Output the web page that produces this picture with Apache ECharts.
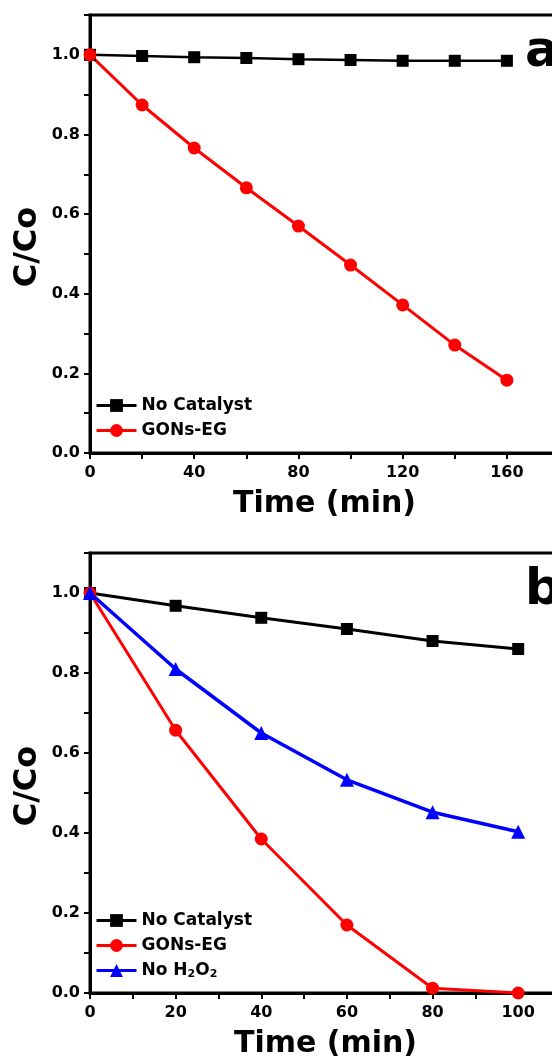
<!DOCTYPE html>
<html>
<head>
<meta charset="utf-8">
<script src="https://cdn.jsdelivr.net/npm/echarts@6/dist/echarts.min.js"></script>
<style>
  html, body { margin: 0; padding: 0; background: #fff; }
  #chart { width: 552px; height: 1062px; }
</style>
</head>
<body>
<div id="chart"></div>
<script>
// panel a
const timeA = [0, 20, 40, 60, 80, 100, 120, 140, 160];
const noCatalystA = [1.0, 0.997, 0.994, 0.992, 0.989, 0.987, 0.985, 0.985, 0.985];
const gonsA = [1.0, 0.874, 0.766, 0.666, 0.570, 0.472, 0.372, 0.271, 0.183];

// panel b
const timeB = [0, 20, 40, 60, 80, 100];
const noCatalystB = [1.0, 0.968, 0.938, 0.910, 0.880, 0.860];
const gonsB = [1.0, 0.657, 0.385, 0.170, 0.012, 0.0];
const noH2O2B = [1.0, 0.810, 0.650, 0.533, 0.452, 0.403];

const FONT = 'DejaVu Sans';

const pairs = (xs, ys) => xs.map((x, i) => [x, ys[i]]);

const yAxisBase = (gridIndex) => ({
  type: 'value',
  gridIndex: gridIndex,
  min: 0,
  max: 1.1,
  interval: 0.1,
  splitLine: { show: false },
  axisLine: { show: true, lineStyle: { color: '#000', width: 3 } },
  axisTick: { show: true, inside: false, length: 6, lineStyle: { color: '#000', width: 2 } },
  axisLabel: {
    margin: 10,
    color: '#000',
    fontFamily: FONT,
    fontWeight: 'bold',
    fontSize: 16,
    formatter: (v) => (Math.round(v * 10) % 2 === 0 && v <= 1.0001) ? v.toFixed(1) : ''
  }
});

const xAxisBase = (gridIndex, max, interval, labelStep) => ({
  type: 'value',
  gridIndex: gridIndex,
  min: 0,
  max: max,
  interval: interval,
  splitLine: { show: false },
  axisLine: { show: true, onZero: false, lineStyle: { color: '#000', width: 3 } },
  axisTick: { show: true, inside: false, length: 6, lineStyle: { color: '#000', width: 2 } },
  axisLabel: {
    margin: 12,
    color: '#000',
    fontFamily: FONT,
    fontWeight: 'bold',
    fontSize: 16,
    formatter: (v) => (Math.round(v) % labelStep === 0) ? String(v) : ''
  },
  name: 'Time (min)',
  nameLocation: 'middle',
  nameGap: 36,
  nameTextStyle: { color: '#000', fontFamily: FONT, fontWeight: 'bold', fontSize: 30 }
});

const legendText = { color: '#000', fontFamily: FONT, fontWeight: 'bold', fontSize: 17,
  rich: { sub: { fontFamily: FONT, fontWeight: 'bold', fontSize: 11, padding: [8, 0, 0, 0] } } };

const option = {
  backgroundColor: '#fff',
  animation: false,
  grid: [
    { left: 90, top: 15, width: 469, height: 438, show: true, borderColor: '#000', borderWidth: 3,
      outerBoundsMode: 'none', containLabel: false },
    { left: 90, top: 553, width: 471, height: 440, show: true, borderColor: '#000', borderWidth: 3,
      outerBoundsMode: 'none', containLabel: false }
  ],
  xAxis: [xAxisBase(0, 180, 20, 40), xAxisBase(1, 110, 10, 20)],
  yAxis: [yAxisBase(0), yAxisBase(1)],
  legend: [
    {
      orient: 'vertical', left: 95, top: 397, padding: 0, itemWidth: 40, itemHeight: 16, itemGap: 8,
      lineStyle: { width: 3 }, textStyle: legendText, data: ['No Catalyst', 'GONs-EG']
    },
    {
      orient: 'vertical', left: 95, top: 912, padding: 0, itemWidth: 40, itemHeight: 16, itemGap: 8,
      lineStyle: { width: 3 }, textStyle: legendText, data: ['No Catalyst ', 'GONs-EG ', 'No H2O2'],
      formatter: (name) => name === 'No H2O2' ? 'No H{sub|2}O{sub|2}' : name.trim()
    }
  ],
  graphic: [
    { type: 'text', left: 525, top: 28, style: { text: 'a', fill: '#000', font: 'bold 50px "DejaVu Sans"' } },
    { type: 'text', left: 525, top: 566, style: { text: 'b', fill: '#000', font: 'bold 50px "DejaVu Sans"' } },
    { type: 'text', x: 28, y: 247, rotation: Math.PI / 2,
      style: { text: 'C/Co', fill: '#000', font: 'bold 32px "DejaVu Sans"', align: 'center', verticalAlign: 'middle' } },
    { type: 'text', x: 28, y: 786, rotation: Math.PI / 2,
      style: { text: 'C/Co', fill: '#000', font: 'bold 32px "DejaVu Sans"', align: 'center', verticalAlign: 'middle' } }
  ],
  series: [
    {
      name: 'No Catalyst', type: 'line', xAxisIndex: 0, yAxisIndex: 0,
      data: pairs(timeA, noCatalystA), symbol: 'rect', symbolSize: 12,
      itemStyle: { color: '#000' }, lineStyle: { color: '#000', width: 2.5 }
    },
    {
      name: 'GONs-EG', type: 'line', xAxisIndex: 0, yAxisIndex: 0,
      data: pairs(timeA, gonsA), symbol: 'circle', symbolSize: 13,
      itemStyle: { color: '#ff0000' }, lineStyle: { color: '#ff0000', width: 3 }
    },
    {
      name: 'No Catalyst ', type: 'line', xAxisIndex: 1, yAxisIndex: 1,
      data: pairs(timeB, noCatalystB), symbol: 'rect', symbolSize: 12,
      itemStyle: { color: '#000' }, lineStyle: { color: '#000', width: 3 }
    },
    {
      name: 'GONs-EG ', type: 'line', xAxisIndex: 1, yAxisIndex: 1,
      data: pairs(timeB, gonsB), symbol: 'circle', symbolSize: 13,
      itemStyle: { color: '#ff0000' }, lineStyle: { color: '#ff0000', width: 3 }
    },
    {
      name: 'No H2O2', type: 'line', xAxisIndex: 1, yAxisIndex: 1,
      data: pairs(timeB, noH2O2B), symbol: 'triangle', symbolSize: 14,
      itemStyle: { color: '#0000ff' }, lineStyle: { color: '#0000ff', width: 3.5 }
    }
  ]
};

const chart = echarts.init(document.getElementById('chart'));
chart.setOption(option);
</script>
</body>
</html>
